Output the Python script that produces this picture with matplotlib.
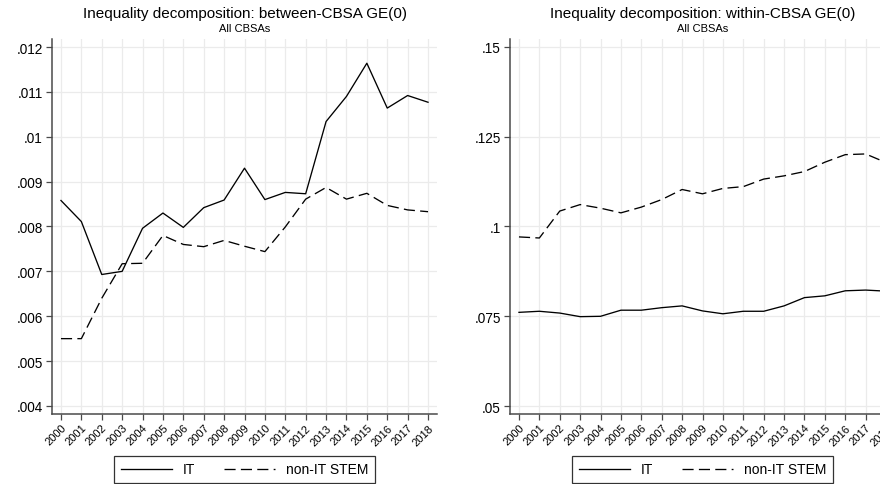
import matplotlib
matplotlib.use("Agg")
import matplotlib.pyplot as plt
from matplotlib.lines import Line2D

plt.rcParams['font.family'] = ['Liberation Sans', 'DejaVu Sans']
plt.rcParams['lines.scale_dashes'] = False

years = list(range(2000, 2019))

# Between-CBSA GE(0)
between_it = [0.00858, 0.00811, 0.00693, 0.00700, 0.00796, 0.00830, 0.00798,
              0.00842, 0.00859, 0.00930, 0.00860, 0.00876, 0.00873, 0.01034,
              0.01090, 0.01164, 0.01064, 0.01092, 0.01077]
between_stem = [0.00550, 0.00550, 0.00640, 0.00717, 0.00718, 0.00780, 0.00760,
                0.00755, 0.00769, 0.00756, 0.00744, 0.00799, 0.00861, 0.00887,
                0.00861, 0.00874, 0.00847, 0.00837, 0.00833]

# Within-CBSA GE(0)
within_it = [0.0761, 0.0764, 0.0759, 0.0749, 0.0750, 0.0767, 0.0767, 0.0774,
             0.0779, 0.0765, 0.0757, 0.0764, 0.0764, 0.0779, 0.0802, 0.0807,
             0.0821, 0.0823, 0.0820]
within_stem = [0.0971, 0.0968, 0.1043, 0.1061, 0.1051, 0.1038, 0.1054, 0.1075,
               0.1103, 0.1091, 0.1106, 0.1111, 0.1132, 0.1141, 0.1153, 0.1179,
               0.1200, 0.1202, 0.1178]

left_yticks = [0.004, 0.005, 0.006, 0.007, 0.008, 0.009, 0.010, 0.011, 0.012]
left_ylabels = ['.004', '.005', '.006', '.007', '.008', '.009', '.01', '.011', '.012']
right_yticks = [0.05, 0.075, 0.1, 0.125, 0.15]
right_ylabels = ['.05', '.075', '.1', '.125', '.15']

titles = ['Inequality decomposition: between-CBSA GE(0)',
          'Inequality decomposition: within-CBSA GE(0)']
subtitle = 'All CBSAs'
series_labels = ['IT', 'non-IT STEM']

W, H = 880, 485
fig = plt.figure(figsize=(W / 100, H / 100), dpi=100)

def px_axes(x0, x1, top, bottom):
    return fig.add_axes([x0 / W, 1 - bottom / H, (x1 - x0) / W, (bottom - top) / H])

ax1 = px_axes(52, 437, 40, 415)
ax2 = px_axes(510, 895, 40, 415)

spine_col = '#4a4a4a'
dash = (0, (8.0, 3.8))

panels = [
    (ax1, between_it, between_stem, left_yticks, left_ylabels, (0.00382, 0.01218)),
    (ax2, within_it, within_stem, right_yticks, right_ylabels, (0.0478, 0.1522)),
]

for i, (ax, it, stem, yt, yl, ylim) in enumerate(panels):
    ax.plot(years, it, color='black', lw=0.95, solid_joinstyle='round', zorder=3)
    ax.plot(years, stem, color='black', lw=0.95, linestyle=dash, zorder=3)
    ax.set_xlim(1999.56, 2018.44)
    ax.set_ylim(*ylim)
    ax.set_xticks(years)
    ax.set_xticklabels([str(y) for y in years], rotation=45, ha='right',
                       va='top', rotation_mode='anchor', fontsize=8)
    ax.set_yticks(yt)
    ax.set_yticklabels(yl, fontsize=9.8)
    ax.grid(True, color='#ebebeb', lw=0.9, zorder=0)
    ax.set_axisbelow(True)
    for s in ['top', 'right']:
        ax.spines[s].set_visible(False)
    for s in ['left', 'bottom']:
        ax.spines[s].set_color(spine_col)
        ax.spines[s].set_linewidth(1.1)
    ax.tick_params(axis='both', direction='out', length=4.5, width=0.9,
                   color=spine_col, pad=2)
    ax.tick_params(axis='x', pad=1.5)

    pos = ax.get_position()
    cx = (pos.x0 + pos.x1) / 2
    fig.text(cx, 1 - 14 / H, titles[i], ha='center', va='center', fontsize=11)
    fig.text(cx, 1 - 28.5 / H, subtitle, ha='center', va='center', fontsize=8)

    handles = [Line2D([], [], color='black', lw=0.95),
               Line2D([], [], color='black', lw=0.95, linestyle=dash)]
    leg = fig.legend(handles, series_labels, loc='center',
                     bbox_to_anchor=(cx, 1 - 470.5 / H), ncol=2, fontsize=10,
                     frameon=True, fancybox=False, handlelength=3.7,
                     handletextpad=0.75, columnspacing=2.1, borderpad=0.45,
                     borderaxespad=0)
    leg.get_frame().set_edgecolor('black')
    leg.get_frame().set_linewidth(0.9)

fig.savefig('out.png', dpi=100, facecolor='white')
